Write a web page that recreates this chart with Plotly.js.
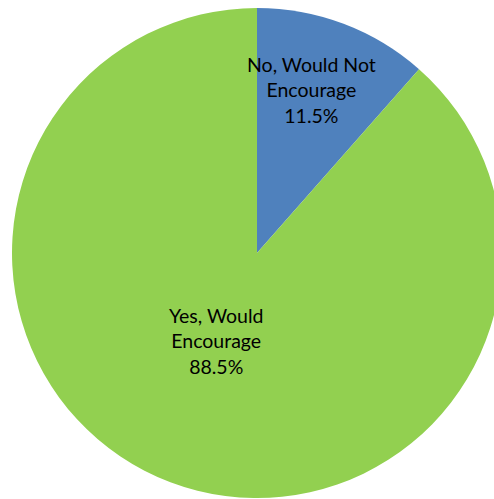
<!DOCTYPE html>
<html>
<head>
<meta charset="utf-8">
<script src="https://cdn.plot.ly/plotly-3.0.1.min.js"></script>
<style>
html, body { margin: 0; padding: 0; overflow: hidden; background: #ffffff; }
#chart { width: 502px; height: 499px; }
</style>
</head>
<body>
<div id="chart"></div>
<script>
const categories = ["No, Would Not<br>Encourage", "Yes, Would<br>Encourage"];
const shares = [11.5, 88.5];
const sliceColors = ["#4F81BD", "#92D050"];
// label anchor positions (paper fractions), Excel "best fit" placement
const labelX = [0.611, 0.417];
const labelY = [0.832, 0.321];

const trace = {
  type: "pie",
  labels: categories,
  values: shares,
  sort: false,
  direction: "clockwise",
  rotation: 0,
  marker: { colors: sliceColors, line: { width: 0 } },
  textinfo: "none",
  hoverinfo: "none"
};

const annotations = categories.map((c, i) => ({
  xref: "paper", yref: "paper",
  x: labelX[i], y: labelY[i],
  xanchor: "center", yanchor: "middle",
  showarrow: false,
  align: "center",
  text: c + "<br>" + shares[i].toFixed(1) + "%",
  font: { family: "Lato, Liberation Sans, Arial, sans-serif", size: 19.5, color: "#000000" }
}));

const layout = {
  width: 502,
  height: 499,
  margin: { l: 12, r: 0, t: 8, b: 1 },
  showlegend: false,
  paper_bgcolor: "#ffffff",
  annotations: annotations
};

Plotly.newPlot("chart", [trace], layout, { staticPlot: true, displayModeBar: false });
</script>
</body>
</html>
